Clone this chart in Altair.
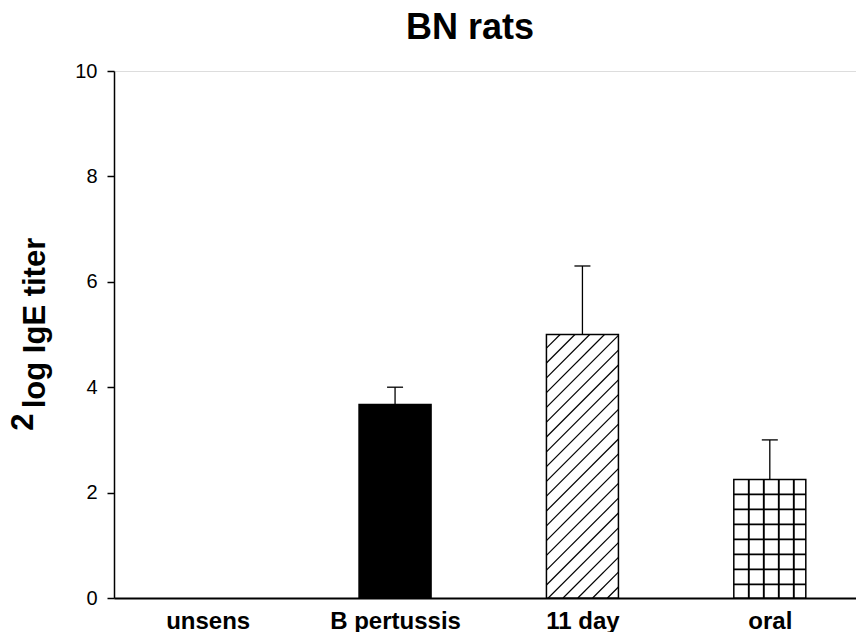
import altair as alt
import numpy as np
import pandas as pd

# ---- data -------------------------------------------------------------
groups = ["unsens", "B pertussis", "11 day", "oral"]
means = [0.0, 3.67, 5.0, 2.25]
sems = [0.0, 0.33, 1.3, 0.75]
patterns = ["none", "solid", "hatch", "grid"]

# ---- layout constants -------------------------------------------------
W, H = 742, 527            # plot area in px
X_MAX, Y_MAX = 3.96, 10.0  # axis domains
PX_X = W / X_MAX           # px per x unit
PX_Y = H / Y_MAX           # px per y unit
HALF_BAR = 36 / PX_X       # half bar width (x units)
HALF_CAP = 8 / PX_X        # half error-cap width (x units)
FONT = "Liberation Sans"

pos = [i + 0.5 for i in range(len(groups))]

bars = pd.DataFrame({
    "group": groups, "pos": pos, "mean": means, "sem": sems, "pattern": patterns,
})
bars["x0"] = bars["pos"] - HALF_BAR
bars["x1"] = bars["pos"] + HALF_BAR
bars["top"] = bars["mean"] + bars["sem"]
bars["c0"] = bars["pos"] - HALF_CAP
bars["c1"] = bars["pos"] + HALF_CAP
bars["fill"] = ["white" if p != "solid" else "black" for p in patterns]
drawn = bars[bars["mean"] > 0]


def hatch_segments(row, spacing=14.8, phase=13.0):
    """Diagonal '/' lines clipped to the bar, returned in data units."""
    w = (row.x1 - row.x0) * PX_X
    h = row["mean"] * PX_Y
    segs = []
    c = phase - np.ceil((phase + w) / spacing) * spacing
    while c < h:
        # line v = u + c inside [0,w] x [0,h]
        u0 = max(0.0, -c)
        u1 = min(w, h - c)
        if u1 > u0:
            segs.append((row.x0 + u0 / PX_X, (u0 + c) / PX_Y,
                         row.x0 + u1 / PX_X, (u1 + c) / PX_Y))
        c += spacing
    return segs


def grid_segments(row, step=15.0):
    """Cross-hatch grid measured from the bar's top-left corner."""
    w = (row.x1 - row.x0) * PX_X
    h = row["mean"] * PX_Y
    segs = []
    v = h - step
    while v > 0:
        segs.append((row.x0, v / PX_Y, row.x1, v / PX_Y))
        v -= step
    u = step
    while u < w:
        segs.append((row.x0 + u / PX_X, 0.0, row.x0 + u / PX_X, row["mean"]))
        u += step
    return segs


hatch_rows, grid_rows = [], []
for _, r in drawn.iterrows():
    if r.pattern == "hatch":
        hatch_rows += hatch_segments(r)
    elif r.pattern == "grid":
        grid_rows += grid_segments(r)
hatch = pd.DataFrame(hatch_rows, columns=["x", "y", "x2", "y2"])
gridl = pd.DataFrame(grid_rows, columns=["x", "y", "x2", "y2"])

# ---- scales / axes ----------------------------------------------------
label_expr = " : ".join(
    f"datum.value == {p} ? '{g}'" for p, g in zip(pos, groups)
) + " : ''"

x_scale = alt.Scale(domain=[0, X_MAX], nice=False, zero=False)
y_scale = alt.Scale(domain=[0, Y_MAX], nice=False)

x_axis = alt.Axis(
    values=pos, labelExpr=label_expr, title=None, grid=False, ticks=False,
    tickSize=0, labelFont=FONT, labelFontSize=24, labelFontWeight="bold",
    labelColor="black", labelBaseline="alphabetic", labelPadding=30,
    domainColor="black", domainWidth=2, labelFlush=False, labelOverlap=False,
)
y_axis = alt.Axis(
    values=[0, 2, 4, 6, 8, 10], title=None, grid=False, tickSize=7,
    tickWidth=1.5, tickColor="black", domainColor="black", domainWidth=1.5,
    labelFont=FONT, labelFontSize=20, labelColor="black", labelPadding=10,
)

base = alt.Chart(drawn)

fill_layer = base.mark_rect(stroke=None).encode(
    x=alt.X("x0:Q", scale=x_scale, axis=x_axis),
    x2="x1:Q",
    y=alt.Y("mean:Q", scale=y_scale, axis=y_axis),
    y2=alt.datum(0),
    fill=alt.Fill("fill:N", scale=None),
)

hatch_layer = alt.Chart(hatch).mark_rule(color="black", strokeWidth=1.2).encode(
    x=alt.X("x:Q", scale=x_scale), x2="x2:Q",
    y=alt.Y("y:Q", scale=y_scale), y2="y2:Q",
)

grid_layer = alt.Chart(gridl).mark_rule(color="black", strokeWidth=1.9).encode(
    x=alt.X("x:Q", scale=x_scale), x2="x2:Q",
    y=alt.Y("y:Q", scale=y_scale), y2="y2:Q",
)

outline_layer = base.mark_rect(fillOpacity=0, stroke="black", strokeWidth=1.5).encode(
    x=alt.X("x0:Q", scale=x_scale), x2="x1:Q",
    y=alt.Y("mean:Q", scale=y_scale), y2=alt.datum(0),
)

err_stem = base.mark_rule(color="black", strokeWidth=1.3).encode(
    x=alt.X("pos:Q", scale=x_scale),
    y=alt.Y("mean:Q", scale=y_scale), y2="top:Q",
)
err_cap = base.mark_rule(color="black", strokeWidth=1.3).encode(
    x=alt.X("c0:Q", scale=x_scale), x2="c1:Q",
    y=alt.Y("top:Q", scale=y_scale),
)

# ---- titles -----------------------------------------------------------
title_df = pd.DataFrame({"t": ["BN rats"]})
title_layer = alt.Chart(title_df).mark_text(
    font=FONT, fontSize=36, fontWeight="bold", color="black",
    align="center", baseline="alphabetic",
).encode(text="t:N", x=alt.value(356), y=alt.value(-32))

ylab_df = pd.DataFrame({"t": ["log IgE titer"]})
ylab_layer = alt.Chart(ylab_df).mark_text(
    font=FONT, fontSize=31, fontWeight="bold", color="black",
    align="center", baseline="alphabetic", angle=270,
).encode(text="t:N", x=alt.value(-69), y=alt.value(252))

sup_df = pd.DataFrame({"t": ["2"]})
sup_layer = alt.Chart(sup_df).mark_text(
    font=FONT, fontSize=31, fontWeight="bold", color="black",
    align="center", baseline="alphabetic", angle=270,
).encode(text="t:N", x=alt.value(-81), y=alt.value(351))

chart = alt.layer(
    fill_layer, hatch_layer, grid_layer, outline_layer, err_stem, err_cap,
    title_layer, ylab_layer, sup_layer,
).properties(
    width=W, height=H,
    autosize=alt.AutoSizeParams(type="none"),
    padding={"left": 114, "top": 71, "right": 0, "bottom": 34},
).configure_view(stroke=None).configure(background="white")

chart.save("out.html", embed_options={"renderer": "svg", "actions": False})
